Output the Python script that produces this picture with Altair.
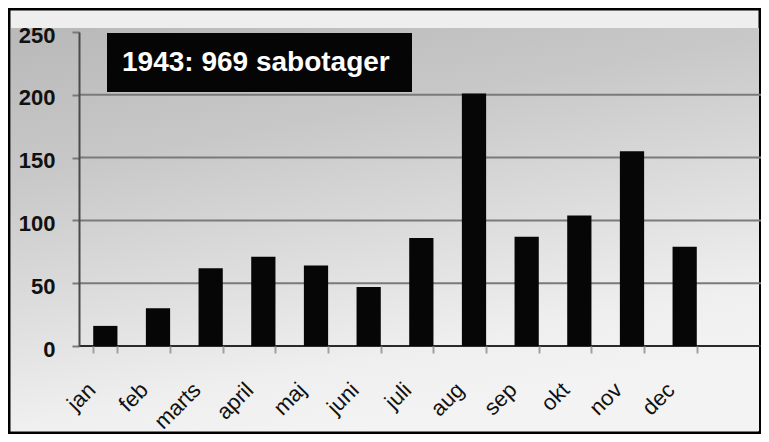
import altair as alt
import pandas as pd

months = ["jan", "feb", "marts", "april", "maj", "juni", "juli", "aug", "sep", "okt", "nov", "dec"]
sabotager = [16, 30, 62, 71, 64, 47, 86, 201, 87, 104, 155, 79]
grid_values = [0, 50, 100, 150, 200]
y_ticks = [0, 50, 100, 150, 200, 250]
title_text = "1943: 969 sabotager"

W, H = 682, 314
FONT = "Liberation Sans"

df = pd.DataFrame({"month": months, "n": sabotager})
grid_df = pd.DataFrame({"v": grid_values})
one = alt.InlineData(values=[{"k": 1}])

outer = alt.Chart(one).mark_rect(
    fill=alt.Gradient(
        gradient="linear",
        stops=[alt.GradientStop(color="#eeeeee", offset=0),
               alt.GradientStop(color="#f2f2f2", offset=1)],
        x1=0, y1=0, x2=0, y2=1),
    stroke="#000000", strokeWidth=3,
).encode(x=alt.value(-70), x2=alt.value(681), y=alt.value(-23), y2=alt.value(401))

inner = alt.Chart(one).mark_rect(
    fill=alt.Gradient(
        gradient="linear",
        stops=[alt.GradientStop(color="#bababa", offset=0),
               alt.GradientStop(color="#c8c8c8", offset=0.3),
               alt.GradientStop(color="#dddddd", offset=0.6),
               alt.GradientStop(color="#efefef", offset=0.85),
               alt.GradientStop(color="#f3f3f3", offset=1)],
        x1=0.1, y1=0, x2=0.45, y2=1),
).encode(x=alt.value(-68), x2=alt.value(680), y=alt.value(-4), y2=alt.value(399))

grid = alt.Chart(grid_df).mark_rule(strokeWidth=2).encode(
    y=alt.Y("v:Q", scale=alt.Scale(domain=[0, 250], nice=False)),
    x=alt.value(0), x2=alt.value(W),
    color=alt.condition(alt.datum.v == 0, alt.value("#2a2a2a"), alt.value("#7a7a7a")),
)

bars = alt.Chart(df).mark_bar(color="#060606").encode(
    x=alt.X("month:N", sort=months,
            scale=alt.Scale(range=[0, 632], paddingInner=0.54, paddingOuter=0.27),
            axis=alt.Axis(title=None, labelAngle=315, labelAlign="right", labelBaseline="middle",
                          labelFontSize=22, labelFont=FONT, labelColor="#111111",
                          labelPadding=33, labelOffset=-14, tickBand="extent", tickSize=7,
                          tickColor="#a0a0a0", tickWidth=2, domain=False, grid=False, zindex=1)),
    y=alt.Y("n:Q", scale=alt.Scale(domain=[0, 250], nice=False),
            axis=alt.Axis(title=None, values=y_ticks, grid=False, labelFontSize=22,
                          labelFont=FONT, labelFontWeight="bold", labelColor="#111111",
                          labelPadding=17, labelOffset=3, tickSize=7, tickColor="#7a7a7a",
                          tickWidth=2, domainColor="#4a4a4a", domainWidth=2, zindex=1)),
)

box = alt.Chart(one).mark_rect(color="#050505").encode(
    x=alt.value(28), x2=alt.value(333), y=alt.value(1), y2=alt.value(60))

title = alt.Chart(one).mark_text(
    text=title_text, color="#ffffff", font=FONT, fontSize=28, fontWeight="bold",
    align="left", baseline="middle",
).encode(x=alt.value(43), y=alt.value(31))

chart = alt.layer(outer, inner, grid, bars, box, title).properties(
    width=W, height=H,
    autosize=alt.AutoSizeParams(type="none"),
    padding={"left": 71, "top": 24, "right": 0, "bottom": 88},
).configure(background="#ffffff").configure_view(stroke=None)

chart.save("out.html", embed_options={"renderer": "svg", "actions": False})
